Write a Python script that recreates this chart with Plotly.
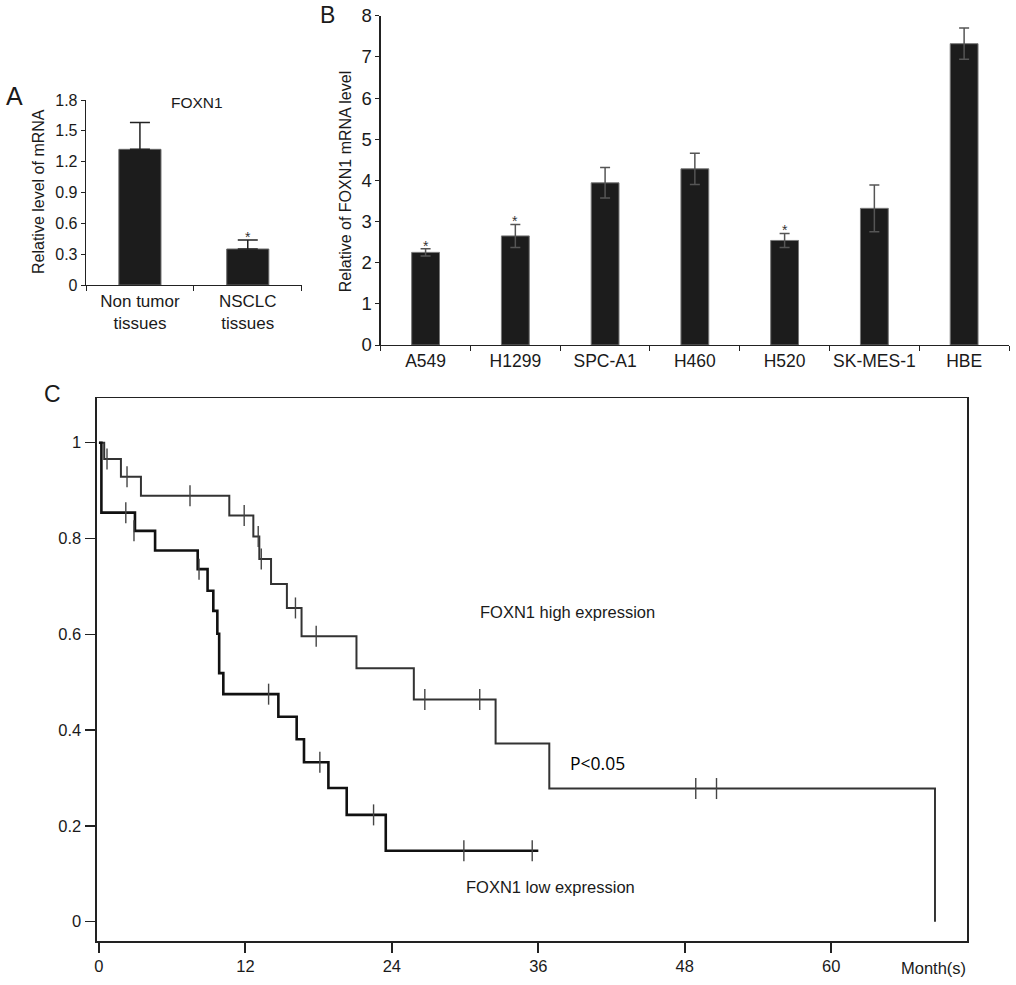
import plotly.graph_objects as go

W, H = 1016, 985

def fx(px):
    return px / W

def fy(py):
    return 1 - py / H

FONT = "Liberation Sans, Arial, Helvetica, sans-serif"
INK = "#1a1a1a"

# ---------------- Panel A data ----------------
a_categories = ["Non tumor<br>tissues", "NSCLC<br>tissues"]
a_values = [1.32, 0.35]
a_errors = [0.26, 0.088]
a_signif = [False, True]
a_ticks = [0, 0.3, 0.6, 0.9, 1.2, 1.5, 1.8]
a_ticktext = ["0", "0.3", "0.6", "0.9", "1.2", "1.5", "1.8"]

# ---------------- Panel B data ----------------
b_categories = ["A549", "H1299", "SPC-A1", "H460", "H520", "SK-MES-1", "HBE"]
b_values = [2.25, 2.65, 3.94, 4.28, 2.54, 3.32, 7.32]
b_errors = [0.09, 0.28, 0.37, 0.38, 0.17, 0.57, 0.38]
b_signif = [True, True, False, False, True, False, False]
b_ticks = [0, 1, 2, 3, 4, 5, 6, 7, 8]

# ---------------- Panel C data (Kaplan-Meier) ----------------
high_times = [0, 0.43, 1.8, 3.44, 10.68, 12.65, 13.14, 14.1, 15.4, 16.6, 21.1, 25.8, 32.5, 36.9, 68.5]
high_surv = [1, 0.966, 0.929, 0.889, 0.848, 0.804, 0.757, 0.705, 0.655, 0.596, 0.529, 0.464, 0.372, 0.278, 0.0]
high_cens_t = [0.66, 2.3, 7.46, 11.9, 13.05, 13.3, 16.1, 17.8, 26.7, 31.2, 48.9, 50.6]
high_cens_s = [0.966, 0.929, 0.889, 0.848, 0.804, 0.757, 0.655, 0.596, 0.464, 0.464, 0.278, 0.278]

low_times = [0, 0.2, 2.95, 4.6, 8.09, 8.9, 9.37, 9.7, 9.85, 10.19, 14.7, 16.2, 16.8, 18.8, 20.3, 23.5, 36.0]
low_surv = [1, 0.854, 0.816, 0.775, 0.736, 0.691, 0.649, 0.601, 0.519, 0.475, 0.428, 0.381, 0.333, 0.279, 0.223, 0.148, 0.148]
low_cens_t = [2.2, 2.87, 8.2, 13.9, 18.1, 22.5, 29.9, 35.5]
low_cens_s = [0.854, 0.816, 0.736, 0.475, 0.333, 0.223, 0.148, 0.148]

c_xticks = [0, 12, 24, 36, 48, 60]
c_yticks = [0, 0.2, 0.4, 0.6, 0.8, 1]
c_yticktext = ["0", "0.2", "0.4", "0.6", "0.8", "1"]

fig = go.Figure()

# Panel A bars
fig.add_trace(go.Bar(
    x=a_categories, y=a_values, width=0.39,
    marker=dict(color="#1c1c1c", line=dict(color="#666", width=1)),
    error_y=dict(type="data", array=a_errors, arrayminus=[0] * len(a_errors), symmetric=False,
                 color="#222", thickness=1.5, width=10),
    xaxis="x", yaxis="y", showlegend=False, hoverinfo="skip",
))

# Panel B bars
fig.add_trace(go.Bar(
    x=b_categories, y=b_values, width=0.31,
    marker=dict(color="#1c1c1c", line=dict(color="#777", width=1)),
    error_y=dict(type="data", array=b_errors, symmetric=True,
                 color="#555", thickness=1.5, width=5),
    xaxis="x2", yaxis="y2", showlegend=False, hoverinfo="skip",
))

# Panel C KM curves
fig.add_trace(go.Scatter(
    x=high_times, y=high_surv, mode="lines", line=dict(shape="hv", color="#333", width=2),
    xaxis="x3", yaxis="y3", showlegend=False, hoverinfo="skip",
))
fig.add_trace(go.Scatter(
    x=low_times, y=low_surv, mode="lines", line=dict(shape="hv", color="#111", width=2.6),
    xaxis="x3", yaxis="y3", showlegend=False, hoverinfo="skip",
))
fig.add_trace(go.Scatter(
    x=high_cens_t, y=high_cens_s, mode="markers",
    marker=dict(symbol="line-ns", size=15, line=dict(color="#444", width=1.4)),
    xaxis="x3", yaxis="y3", showlegend=False, hoverinfo="skip",
))
fig.add_trace(go.Scatter(
    x=low_cens_t, y=low_cens_s, mode="markers",
    marker=dict(symbol="line-ns", size=15, line=dict(color="#444", width=1.4)),
    xaxis="x3", yaxis="y3", showlegend=False, hoverinfo="skip",
))

axis_common = dict(showgrid=False, zeroline=False, showline=True, linecolor="#222",
                   ticks="outside", tickcolor="#222", fixedrange=True, automargin=False)

fig.update_layout(
    template="none",
    width=W, height=H, autosize=False,
    margin=dict(l=0, r=0, t=0, b=0, pad=0),
    paper_bgcolor="white", plot_bgcolor="white",
    font=dict(family=FONT, color=INK),
    # Panel A
    xaxis=dict(axis_common, domain=[fx(86), fx(301.7)], anchor="y", range=[-0.5, 1.5],
               tickson="boundaries", ticklen=5, linewidth=1.3, tickangle=0,
               tickfont=dict(size=17, family=FONT, color=INK)),
    yaxis=dict(axis_common, domain=[fy(285), fy(100)], anchor="x", range=[0, 1.8],
               tickvals=a_ticks, ticktext=a_ticktext, ticklen=4, linewidth=1.3,
               tickfont=dict(size=16, family=FONT, color=INK)),
    # Panel B
    xaxis2=dict(axis_common, domain=[fx(380.7), fx(1009)], anchor="y2", range=[-0.5, 6.5],
                tickson="boundaries", ticklen=5, linewidth=1.3, tickangle=0,
                tickfont=dict(size=17.5, family=FONT, color=INK)),
    yaxis2=dict(axis_common, domain=[fy(345), fy(15.7)], anchor="x2", range=[0, 8],
                tickvals=b_ticks, ticklen=4, linewidth=1.3,
                tickfont=dict(size=18.5, family=FONT, color=INK)),
    # Panel C
    xaxis3=dict(axis_common, domain=[fx(97), fx(966.7)], anchor="y3", range=[-0.16, 71.1],
                tickvals=c_xticks, ticklen=10, tickwidth=2, linewidth=1.5, mirror=True, tickangle=0,
                tickfont=dict(size=16.5, family=FONT, color=INK)),
    yaxis3=dict(axis_common, domain=[fy(941), fy(398.3)], anchor="x3", range=[-0.0403, 1.0927],
                tickvals=c_yticks, ticktext=c_yticktext, ticklen=10, tickwidth=1.5,
                linewidth=2.4, mirror=True,
                tickfont=dict(size=16.5, family=FONT, color=INK)),
)

ann = []
# Panel letters
ann.append(dict(text="A", x=fx(14), y=fy(96), xref="paper", yref="paper", showarrow=False,
                font=dict(size=25, family=FONT, color=INK), xanchor="center", yanchor="middle"))
ann.append(dict(text="B", x=fx(327), y=fy(15), xref="paper", yref="paper", showarrow=False,
                font=dict(size=23, family=FONT, color=INK), xanchor="center", yanchor="middle"))
ann.append(dict(text="C", x=fx(52), y=fy(394), xref="paper", yref="paper", showarrow=False,
                font=dict(size=23, family=FONT, color=INK), xanchor="center", yanchor="middle"))
# Axis titles
ann.append(dict(text="Relative level of mRNA", x=fx(38), y=fy(192), xref="paper", yref="paper",
                showarrow=False, textangle=-90, font=dict(size=16, family=FONT, color=INK),
                xanchor="center", yanchor="middle"))
ann.append(dict(text="Relative of FOXN1 mRNA level", x=fx(345.5), y=fy(181.7), xref="paper", yref="paper",
                showarrow=False, textangle=-90, font=dict(size=16, family=FONT, color=INK),
                xanchor="center", yanchor="middle"))
# Panel A title
ann.append(dict(text="FOXN1", x=fx(197), y=fy(102), xref="paper", yref="paper", showarrow=False,
                font=dict(size=15.5, family=FONT, color=INK), xanchor="center", yanchor="middle"))
# Asterisks
for cat, v, e, s in zip(a_categories, a_values, a_errors, a_signif):
    if s:
        ann.append(dict(text="*", x=cat, y=v + e, xref="x", yref="y", showarrow=False,
                        font=dict(size=14, family=FONT, color="#333"), yanchor="middle", yshift=3))
for cat, v, e, s in zip(b_categories, b_values, b_errors, b_signif):
    if s:
        ann.append(dict(text="*", x=cat, y=v + e, xref="x2", yref="y2", showarrow=False,
                        font=dict(size=14, family=FONT, color="#333"), yanchor="middle", yshift=3))
# Panel C texts
ann.append(dict(text="FOXN1 high expression", x=fx(478), y=fy(612), xref="paper", yref="paper",
                showarrow=False, font=dict(size=16.5, family=FONT, color=INK),
                xanchor="left", yanchor="middle"))
ann.append(dict(text="P<0.05", x=fx(567.5), y=fy(763), xref="paper", yref="paper",
                showarrow=False, font=dict(size=17.5, family="Open Sans, DejaVu Sans, sans-serif", color="#000"),
                xanchor="left", yanchor="middle"))
ann.append(dict(text="FOXN1 low expression", x=fx(464), y=fy(887), xref="paper", yref="paper",
                showarrow=False, font=dict(size=16.5, family=FONT, color=INK),
                xanchor="left", yanchor="middle"))
ann.append(dict(text="Month(s)", x=fx(899), y=fy(968), xref="paper", yref="paper",
                showarrow=False, font=dict(size=16.5, family=FONT, color=INK),
                xanchor="left", yanchor="middle"))

fig.update_layout(annotations=ann)

# Remove the browser's default body margin so the figure fills the window exactly.
fig.write_html("out.html",
               config={"displayModeBar": False, "staticPlot": True},
               post_script="document.body.style.margin='0';document.body.style.padding='0';")
